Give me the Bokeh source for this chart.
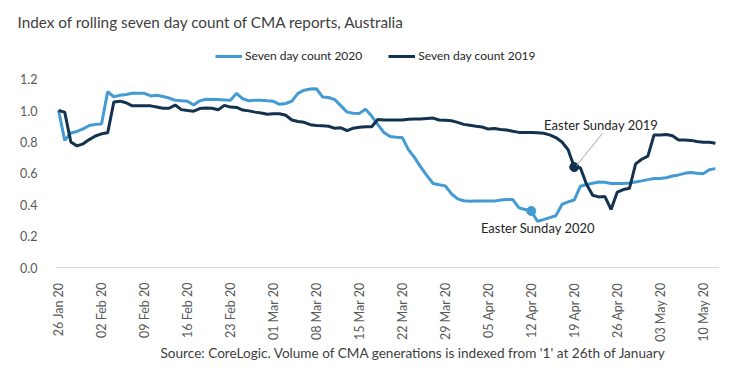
import math
from bokeh.plotting import figure
from bokeh.models import (Label, Legend, LegendItem, FixedTicker, ColumnDataSource, Range1d, Title)
from bokeh.embed import file_html
from bokeh.resources import INLINE

# ---- data ----
title_text = "Index of rolling seven day count of CMA reports, Australia"
caption_text = "Source: CoreLogic. Volume of CMA generations is indexed from '1' at 26th of January"
series_names = ["Seven day count 2020", "Seven day count 2019"]

tick_days = [0, 7, 14, 21, 28, 35, 42, 49, 56, 63, 70, 77, 84, 91, 98, 105]
tick_labels = ["26 Jan 20", "02 Feb 20", "09 Feb 20", "16 Feb 20", "23 Feb 20", "01 Mar 20",
               "08 Mar 20", "15 Mar 20", "22 Mar 20", "29 Mar 20", "05 Apr 20", "12 Apr 20",
               "19 Apr 20", "26 Apr 20", "03 May 20", "10 May 20"]

y_ticks = [0.0, 0.2, 0.4, 0.6, 0.8, 1.0, 1.2]

count_2020 = [
    1.00, 0.81, 0.857, 0.867, 0.883, 0.905, 0.912, 0.915, 1.12, 1.088,
    1.097, 1.103, 1.11, 1.11, 1.11, 1.093, 1.097, 1.09, 1.08, 1.065,
    1.063, 1.06, 1.035, 1.062, 1.072, 1.07, 1.07, 1.068, 1.066, 1.11,
    1.075, 1.062, 1.065, 1.066, 1.062, 1.059, 1.04, 1.045, 1.06, 1.11,
    1.13, 1.138, 1.139, 1.087, 1.083, 1.07, 1.03, 0.99, 0.983, 0.982,
    1.009, 0.965, 0.91, 0.86, 0.834, 0.83, 0.828, 0.75, 0.70, 0.64,
    0.585, 0.535, 0.527, 0.52, 0.47, 0.437, 0.425, 0.422, 0.423, 0.423,
    0.423, 0.423, 0.43, 0.434, 0.433, 0.38, 0.37, 0.36, 0.295, 0.305,
    0.318, 0.33, 0.402, 0.418, 0.43, 0.518, 0.529, 0.537, 0.545, 0.543,
    0.535, 0.535, 0.535, 0.538, 0.545, 0.552, 0.56, 0.567, 0.567, 0.572,
    0.583, 0.59, 0.60, 0.605, 0.60, 0.597, 0.623, 0.63]

count_2019 = [
    1.00, 0.99, 0.80, 0.775, 0.788, 0.815, 0.838, 0.852, 0.858, 1.055,
    1.06, 1.05, 1.03, 1.03, 1.03, 1.03, 1.023, 1.015, 1.015, 1.035,
    1.006, 1.00, 0.996, 1.013, 1.017, 1.015, 1.005, 1.033, 1.022, 1.02,
    1.003, 0.998, 0.99, 0.985, 0.977, 0.98, 0.98, 0.97, 0.94, 0.93,
    0.925, 0.91, 0.905, 0.903, 0.90, 0.887, 0.89, 0.872, 0.888, 0.893,
    0.897, 0.897, 0.943, 0.94, 0.94, 0.94, 0.94, 0.945, 0.946, 0.946,
    0.95, 0.952, 0.94, 0.938, 0.935, 0.925, 0.912, 0.906, 0.90, 0.895,
    0.882, 0.885, 0.88, 0.876, 0.868, 0.861, 0.86, 0.86, 0.859, 0.855,
    0.845, 0.828, 0.80, 0.75, 0.64, 0.635, 0.53, 0.46, 0.45, 0.452,
    0.37, 0.48, 0.497, 0.505, 0.66, 0.69, 0.71, 0.845, 0.845, 0.848,
    0.84, 0.813, 0.813, 0.81, 0.803, 0.798, 0.798, 0.792]

easter_2020_idx = 77
easter_2019_idx = 84
easter_labels = ["Easter Sunday 2020", "Easter Sunday 2019"]

days = list(range(len(count_2020)))

C2020 = "#449BD3"
C2019 = "#12324F"
TXT = "#595959"
FONT = "Lato"

# frame: left 55, right 718, top 40, bottom 267 (in page pixels)
p = figure(width=735, height=368, output_backend="svg", toolbar_location=None,
           x_range=Range1d(-0.5, 107.5), y_range=Range1d(0, 227 / 158.33),
           min_border_left=55, min_border_right=17, min_border_top=40, min_border_bottom=101)
p.outline_line_color = None
p.xgrid.visible = False
p.ygrid.visible = False
p.background_fill_color = "white"
p.border_fill_color = "white"

p.title.text = title_text
p.title.align = "left"
p.title.offset = -38
p.title.text_font = FONT
p.title.text_font_size = "15.3px"
p.title.text_font_style = "normal"
p.title.text_color = "#404040"
p.title.vertical_align = "middle"
p.title.standoff = 22

cap = Title(text=caption_text, align="left", offset=105, text_font=FONT,
            text_font_size="13.6px", text_font_style="normal", text_color="#404040",
            standoff=0, vertical_align="top")
p.add_layout(cap, "below")

src = ColumnDataSource(dict(x=days, a=count_2020, b=count_2019))
r20 = p.line("x", "a", source=src, line_color=C2020, line_width=3)
r19 = p.line("x", "b", source=src, line_color=C2019, line_width=3)

# Easter markers
p.scatter([days[easter_2020_idx]], [count_2020[easter_2020_idx]], size=9, color=C2020)
p.scatter([days[easter_2019_idx]], [count_2019[easter_2019_idx]], size=9, color=C2019)

# leader line for 2019
p.segment(x0=[days[easter_2019_idx] + 0.4], y0=[count_2019[easter_2019_idx] + 0.01],
          x1=[88.6], y1=[0.855], line_color="#A6A6A6", line_width=1)

p.add_layout(Label(x=88.4, y=0.91, text=easter_labels[1], text_align="center",
                   text_baseline="middle", text_font=FONT, text_font_size="13px",
                   text_color="#262626"))
p.add_layout(Label(x=78.1, y=0.25, text=easter_labels[0], text_align="center",
                   text_baseline="middle", text_font=FONT, text_font_size="13px",
                   text_color="#262626"))

# axes
xa = p.xaxis[0]
xa.ticker = FixedTicker(ticks=tick_days)
xa.major_label_overrides = {d: l for d, l in zip(tick_days, tick_labels)}
xa.major_label_orientation = math.pi / 2
xa.major_tick_line_color = None
xa.minor_tick_line_color = None
xa.axis_line_color = "#D9D9D9"
xa.axis_line_width = 1
xa.major_label_text_color = TXT
xa.major_label_text_font = FONT
xa.major_label_text_font_size = "12.5px"
xa.major_label_standoff = 9

ya = p.yaxis[0]
ya.ticker = FixedTicker(ticks=y_ticks)
ya.major_label_overrides = {t: f"{t:.1f}" for t in y_ticks}
ya.major_tick_line_color = None
ya.minor_tick_line_color = None
ya.axis_line_color = None
ya.major_label_text_color = TXT
ya.major_label_text_font = FONT
ya.major_label_text_font_size = "12.5px"
ya.major_label_standoff = 12

# legend
legend = Legend(items=[LegendItem(label=series_names[0], renderers=[r20]),
                       LegendItem(label=series_names[1], renderers=[r19])],
                orientation="horizontal", location=(160, 204),
                padding=0, margin=0, spacing=26, glyph_width=27, glyph_height=14,
                label_height=14, label_standoff=3, label_text_font=FONT,
                label_text_font_size="12px", label_text_color="#262626",
                border_line_alpha=0, background_fill_alpha=0)
p.add_layout(legend, "center")

open("out.html", "w").write(file_html(p, INLINE))
